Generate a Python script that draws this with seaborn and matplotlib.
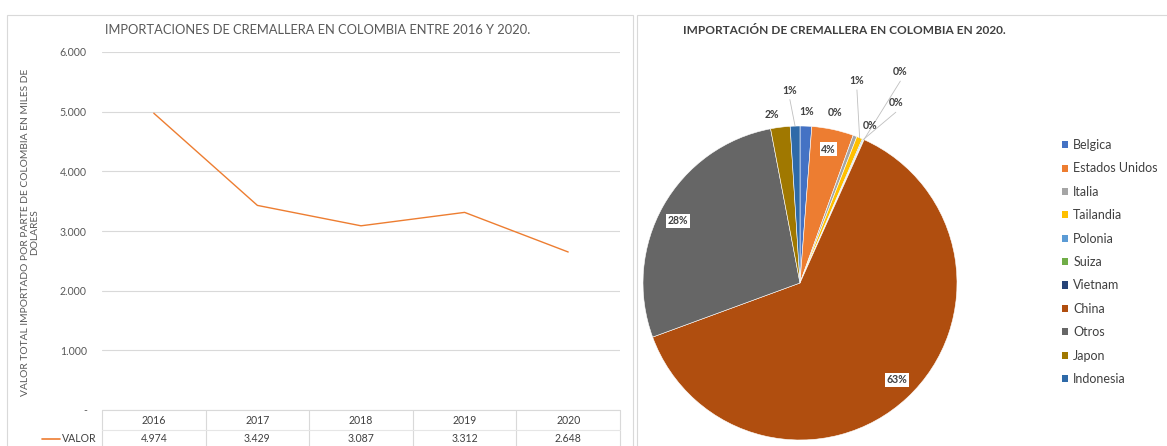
import numpy as np
import pandas as pd
import matplotlib
matplotlib.use('Agg')
import matplotlib.pyplot as plt
import matplotlib.transforms as mtransforms
from matplotlib.patches import Patch, Rectangle
from matplotlib.ticker import FixedLocator, FuncFormatter
import seaborn as sns

# --- Datos: importaciones 2016-2020 (miles de dolares) ---
anios = ['2016', '2017', '2018', '2019', '2020']
valores = [4974, 3429, 3087, 3312, 2648]

# --- Datos: participacion por pais en 2020 (%) ---
paises = ['Belgica', 'Estados Unidos', 'Italia', 'Tailandia', 'Polonia', 'Suiza',
          'Vietnam', 'China', 'Otros', 'Japon', 'Indonesia']
participacion = [1.2, 4.3, 0.4, 0.6, 0.1, 0.05, 0.05, 62.7, 27.6, 2.0, 1.0]
colores_pie = ['#4472C4', '#ED7D31', '#A5A5A5', '#FFC000', '#5B9BD5', '#70AD47',
               '#264478', '#B04E0F', '#666666', '#A07800', '#2E6AA8']

# posicion de cada etiqueta (radio, angulo) y si lleva linea guia
etiq_pos = [(1.09, 87.8), (0.87, 78), (1.11, 78.4), (1.34, 74.3), (1.1, 66),
            (1.3, 62), (1.49, 64.6), (0.87, -45), (0.87, 153), (1.09, 99.5), (1.23, 93)]
etiq_guia = [False, False, False, True, False, True, True, False, False, False, True]
etiq_caja = [False, True, False, False, False, False, False, True, True, False, False]


def miles(v, pos=None):
    v = int(round(v))
    if v == 0:
        return '-'
    return '{:,}'.format(v).replace(',', '.')


sns.set_theme(style='white')
plt.rcParams['font.family'] = ['Lato', 'DejaVu Sans']

W, H = 1167, 446
fig = plt.figure(figsize=(W / 100, H / 100), dpi=100)

# marcos de los paneles
fig.patches.append(Rectangle((7 / W, -0.1), 626 / W, 1.1 - 15 / H, transform=fig.transFigure,
                             fill=False, edgecolor='#D9D9D9', linewidth=0.8))
fig.patches.append(Rectangle((637 / W, -0.1), 0.5, 1.1 - 15 / H, transform=fig.transFigure,
                             fill=False, edgecolor='#D9D9D9', linewidth=0.8))

# ================= Grafico de linea =================
x0, x1, ytop, ybot = 102, 620, 52, 410
ax = fig.add_axes([x0 / W, 1 - ybot / H, (x1 - x0) / W, (ybot - ytop) / H])
df = pd.DataFrame({'Año': anios, 'Valor': valores})
sns.lineplot(data=df, x='Año', y='Valor', ax=ax, color='#ED7D31', linewidth=1.0)
ax.set_xlim(-0.5, len(anios) - 0.5)
ax.set_ylim(0, 6000)
ax.yaxis.set_major_locator(FixedLocator(np.arange(0, 6001, 1000)))
ax.yaxis.set_major_formatter(FuncFormatter(miles))
ax.set_xticks([])
ax.set_xlabel('')
ax.set_ylabel('')
ax.tick_params(axis='y', length=0, pad=11, labelsize=7.6, labelcolor='#595959')
for s in ax.spines.values():
    s.set_visible(False)
ax.grid(axis='y', color='#D9D9D9', linewidth=0.8)
ax.set_axisbelow(True)

fig.text(105 / W, 1 - 30 / H, 'IMPORTACIONES DE CREMALLERA EN COLOMBIA ENTRE 2016 Y 2020.',
         ha='left', va='center', fontsize=9.3, color='#595959')
fig.text(30 / W, 1 - 232 / H,
         'VALOR TOTAL IMPORTADO POR PARTE DE COLOMBIA EN MILES DE\nDOLARES',
         rotation=90, ha='center', va='center', multialignment='center',
         fontsize=7.4, color='#595959', linespacing=1.0)

# tabla de datos bajo el eje
trans = mtransforms.blended_transform_factory(ax.transData, ax.transAxes)
alto = ybot - ytop
y_cab = -10 / alto
y_val = -29 / alto
y_sep = -20 / alto
y_fin = -40 / alto
for i, (a, v) in enumerate(zip(anios, valores)):
    ax.text(i, y_cab, a, transform=trans, ha='center', va='center', fontsize=7.6, color='#404040')
    ax.text(i, y_val, miles(v), transform=trans, ha='center', va='center',
            fontsize=7.6, color='#404040')
for b in np.arange(-0.5, len(anios), 1.0):
    ax.plot([b, b], [0, y_fin], transform=trans, color='#D9D9D9', linewidth=0.8, clip_on=False)
ax.plot([-0.5, len(anios) - 0.5], [0, 0], transform=trans, color='#D9D9D9', linewidth=0.8, clip_on=False)
ax.plot([-0.5, len(anios) - 0.5], [y_sep, y_sep], transform=trans, color='#E6E6E6',
        linewidth=0.8, clip_on=False)
ax.plot([(42 - x0) / (x1 - x0), (60 - x0) / (x1 - x0)], [y_val, y_val], transform=ax.transAxes,
        color='#ED7D31', linewidth=1.2, clip_on=False)
ax.text((62 - x0) / (x1 - x0), y_val, 'VALOR', transform=ax.transAxes, ha='left', va='center',
        fontsize=7.6, color='#404040')

# ================= Grafico de torta =================
cx, cy, r = 800, 283, 157
axp = fig.add_axes([(cx - r) / W, 1 - (cy + r) / H, 2 * r / W, 2 * r / H])
wedges, _ = axp.pie(participacion, colors=colores_pie, startangle=90, counterclock=False,
                    radius=1, wedgeprops=dict(edgecolor='white', linewidth=0.4))
axp.set_xlim(-1, 1)
axp.set_ylim(-1, 1)
axp.set_aspect('auto')
axp.axis('off')

total = sum(participacion)
for w, v, (rr, ang), guia, caja in zip(wedges, participacion, etiq_pos, etiq_guia, etiq_caja):
    texto = f'{v / total * 100:.0f}%'
    tx, ty = rr * np.cos(np.radians(ang)), rr * np.sin(np.radians(ang))
    bbox = dict(boxstyle='square,pad=0.15', facecolor='white', edgecolor='none') if caja else None
    axp.text(tx, ty, texto, ha='center', va='center', fontsize=7.6, fontweight='bold',
             color='#404040', bbox=bbox)
    if guia:
        mid = np.radians((w.theta1 + w.theta2) / 2)
        axp.plot([np.cos(mid), tx], [np.sin(mid), ty - 0.06],
                 color='#BFBFBF', linewidth=0.6, clip_on=False)

fig.text(844 / W, 1 - 30 / H, 'IMPORTACIÓN DE CREMALLERA EN COLOMBIA EN 2020.',
         ha='center', va='center', fontsize=8.6, fontweight='bold', color='#404040')

handles = [Patch(facecolor=c, edgecolor='none') for c in colores_pie]
fig.legend(handles, paises, loc='center left', bbox_to_anchor=(1062 / W, 1 - 262 / H),
           frameon=False, fontsize=9, handlelength=0.5, handleheight=0.5,
           handletextpad=0.4, labelspacing=0.91, borderaxespad=0, borderpad=0,
           labelcolor='#404040')

fig.savefig('out.png', dpi=100)
